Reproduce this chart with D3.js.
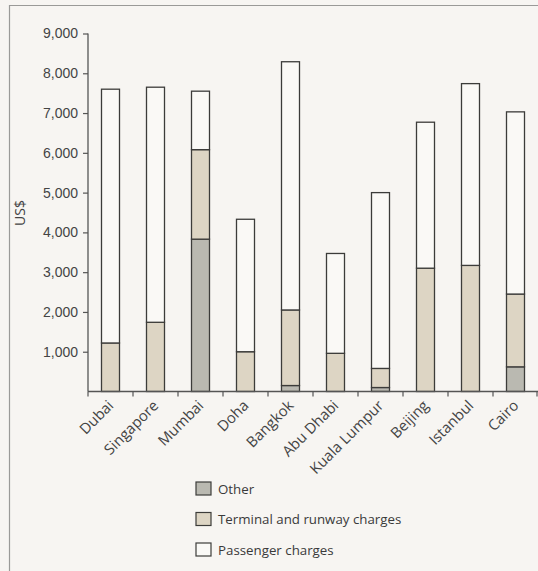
<!DOCTYPE html>
<html>
<head>
<meta charset="utf-8">
<script src="https://cdn.jsdelivr.net/npm/d3@7"></script>
<style>
  html, body { margin: 0; padding: 0; background: #f7f5f2; }
  svg { display: block; font-family: "Open Sans", "Noto Sans", sans-serif; }
</style>
</head>
<body>
<svg id="chart" width="538" height="571"></svg>
<script>
// Airport charges per turnaround, US$
const airports = ["Dubai", "Singapore", "Mumbai", "Doha", "Bangkok", "Abu Dhabi",
                  "Kuala Lumpur", "Beijing", "Istanbul", "Cairo"];
const other      = [0,    0,    3830, 0,    150,  0,    100,  0,    0,    620];
const terminal   = [1220, 1740, 2250, 1000, 1900, 960,  480,  3100, 3170, 1830];
const passenger  = [6380, 5910, 1470, 3330, 6240, 2510, 4420, 3670, 4570, 4580];
const yTicks     = [1000, 2000, 3000, 4000, 5000, 6000, 7000, 8000, 9000];
const seriesNames = ["Other", "Terminal and runway charges", "Passenger charges"];
const seriesKeys  = ["other", "terminal", "passenger"];
const seriesFill  = ["#bab9b1", "#ddd5c4", "#faf9f6"];

const rows = airports.map((a, i) => ({
  airport: a, other: other[i], terminal: terminal[i], passenger: passenger[i]
}));

const svg = d3.select("#chart");

// panel frame: top and left rules
svg.append("line").attr("x1", 9.5).attr("x2", 538).attr("y1", 5.5).attr("y2", 5.5)
  .attr("stroke", "#9a9a98").attr("stroke-width", 1.2);
svg.append("line").attr("x1", 9.5).attr("x2", 9.5).attr("y1", 5).attr("y2", 571)
  .attr("stroke", "#9a9a98").attr("stroke-width", 1.2);

const x = d3.scaleBand().domain(airports).range([88, 538]).padding(0);
const y = d3.scaleLinear().domain([0, 9000]).range([391.5, 33.5]);
const barW = x.bandwidth() * 0.4;

const stack = d3.stack().keys(seriesKeys)(rows);

svg.append("g").selectAll("g")
  .data(stack)
  .join("g")
    .attr("fill", (d, i) => seriesFill[i])
  .selectAll("rect")
  .data(d => d.filter(s => s[1] - s[0] > 0))
  .join("rect")
    .attr("x", d => x(d.data.airport) + (x.bandwidth() - barW) / 2)
    .attr("y", d => y(d[1]))
    .attr("width", barW)
    .attr("height", d => y(d[0]) - y(d[1]))
    .attr("stroke", "#3c3c3a")
    .attr("stroke-width", 1.3);

// y axis
const yAxis = svg.append("g")
  .attr("transform", "translate(88,0)")
  .call(d3.axisLeft(y).tickValues(yTicks).tickSize(5).tickPadding(5)
        .tickFormat(d3.format(",")));
yAxis.select(".domain").attr("stroke", "#555").attr("stroke-width", 1.3)
  .attr("d", `M0,${y(9000)}V${y(0)}`);
yAxis.selectAll(".tick line").attr("stroke", "#555").attr("stroke-width", 1.2);
yAxis.selectAll(".tick text").attr("fill", "#444").style("font-size", "14px");

// x axis with ticks on the category boundaries
const xAxis = svg.append("g").attr("transform", `translate(0,${y(0)})`);
xAxis.append("line").attr("x1", 88).attr("x2", 538).attr("y1", 0).attr("y2", 0)
  .attr("stroke", "#555").attr("stroke-width", 1.3);
xAxis.selectAll("line.tk")
  .data(airports.map(a => x(a)).concat([x.range()[1] - 1]))
  .join("line").attr("class", "tk")
    .attr("x1", d => d).attr("x2", d => d).attr("y1", 0).attr("y2", 5)
    .attr("stroke", "#555").attr("stroke-width", 1.2);
xAxis.selectAll("text")
  .data(airports)
  .join("text")
    .attr("transform", d => `translate(${x(d) + x.bandwidth() / 2 + 4},${15}) rotate(-45)`)
    .attr("text-anchor", "end")
    .attr("fill", "#444")
    .style("font-size", "14.8px")
    .text(d => d);

// y axis title
svg.append("text")
  .attr("transform", `translate(25,${213}) rotate(-90)`)
  .attr("text-anchor", "middle")
  .attr("fill", "#444")
  .style("font-size", "14px")
  .text("US$");

// legend
const legend = svg.append("g").attr("transform", "translate(196,482)");
const item = legend.selectAll("g")
  .data(seriesNames)
  .join("g")
    .attr("transform", (d, i) => `translate(0,${i * 30.5})`);
item.append("rect")
  .attr("width", 15).attr("height", 13)
  .attr("fill", (d, i) => seriesFill[i])
  .attr("stroke", "#3c3c3a").attr("stroke-width", 1.2);
item.append("text")
  .attr("x", 22).attr("y", 11.5)
  .attr("fill", "#3a3a3a")
  .style("font-size", "13.3px")
  .text(d => d);
</script>
</body>
</html>
